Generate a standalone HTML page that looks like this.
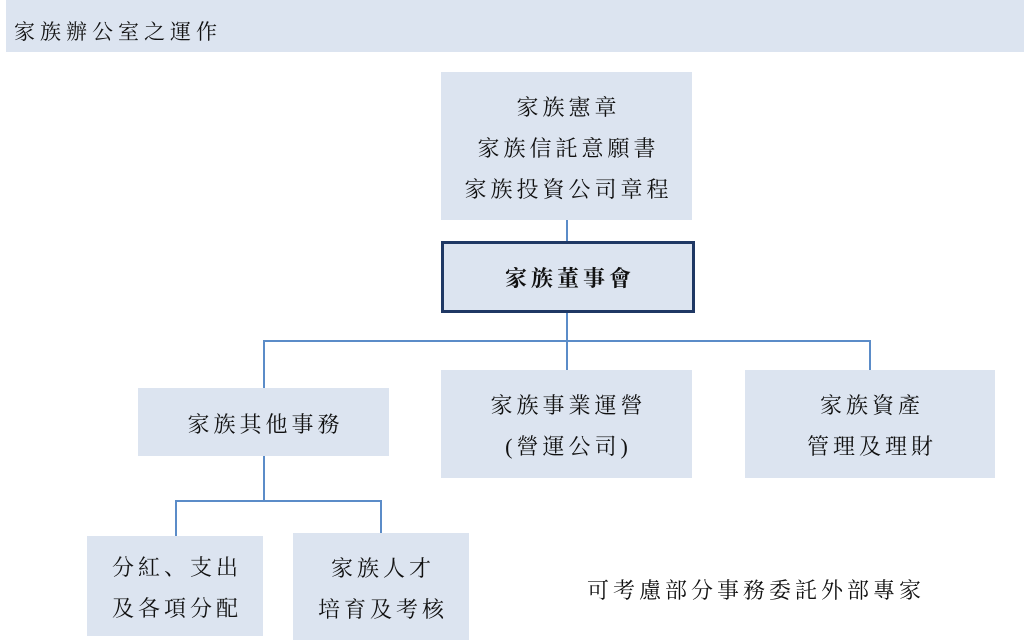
<!DOCTYPE html>
<html><head><meta charset="utf-8"><style>
body{margin:0;width:1024px;height:642px;background:#fff;position:relative;overflow:hidden;font-family:"Liberation Serif","Noto Serif CJK SC",serif;color:#111}
.b{position:absolute;background:#dce4f0;display:flex;flex-direction:column;align-items:center;justify-content:center;font-size:22px;line-height:41px;letter-spacing:4px;text-align:center;box-sizing:border-box;padding-top:4px}
.b div{margin-right:-4px}
.l{position:absolute;background:#5b8cc8}
</style></head><body>
<div style="position:absolute;left:6px;top:0;width:1018px;height:52px;background:#dce4f0"></div>
<div style="position:absolute;left:14px;top:16px;font-size:21px;letter-spacing:5px">家族辦公室之運作</div>

<div class="l" style="left:566px;top:220px;width:2px;height:22px"></div>
<div class="l" style="left:566px;top:312px;width:2px;height:58px"></div>
<div class="l" style="left:263px;top:340px;width:607px;height:2px"></div>
<div class="l" style="left:263px;top:340px;width:2px;height:48px"></div>
<div class="l" style="left:869px;top:340px;width:2px;height:30px"></div>
<div class="l" style="left:263px;top:456px;width:2px;height:45px"></div>
<div class="l" style="left:175px;top:500px;width:207px;height:2px"></div>
<div class="l" style="left:175px;top:500px;width:2px;height:36px"></div>
<div class="l" style="left:380px;top:500px;width:2px;height:33px"></div>

<div class="b" style="left:441px;top:72px;width:251px;height:148px"><div>家族憲章</div><div>家族信託意願書</div><div>家族投資公司章程</div></div>
<div class="b" style="left:441px;top:241px;width:254px;height:72px;border:3px solid #1f3864;font-weight:bold;padding-top:2px"><div>家族董事會</div></div>
<div class="b" style="left:138px;top:388px;width:251px;height:68px"><div>家族其他事務</div></div>
<div class="b" style="left:441px;top:370px;width:251px;height:108px"><div>家族事業運營</div><div>(營運公司)</div></div>
<div class="b" style="left:745px;top:370px;width:250px;height:108px"><div>家族資產</div><div>管理及理財</div></div>
<div class="b" style="left:87px;top:536px;width:176px;height:100px"><div>分紅、支出</div><div>及各項分配</div></div>
<div class="b" style="left:293px;top:533px;width:176px;height:107px"><div>家族人才</div><div>培育及考核</div></div>
<div style="position:absolute;left:587px;top:574px;font-size:22px;letter-spacing:4px">可考慮部分事務委託外部專家</div>
</body></html>
